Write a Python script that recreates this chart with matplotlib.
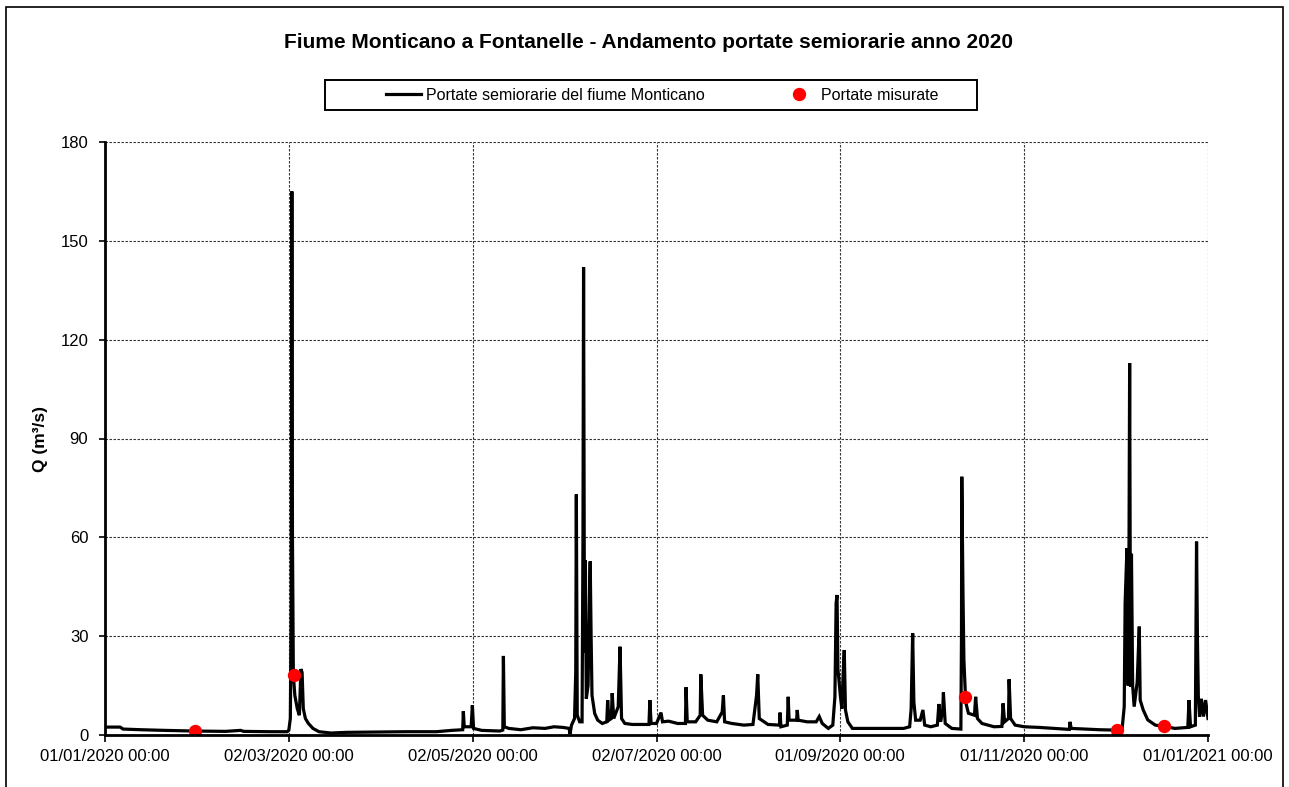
import matplotlib
matplotlib.use("Agg")
import matplotlib.pyplot as plt
import matplotlib.dates as mdates
from matplotlib.patches import Rectangle
import pandas as pd

plt.rcParams['font.family'] = ['Liberation Sans', 'DejaVu Sans']

# --- DATA -------------------------------------------------------------
# days elapsed since 01/01/2020 00:00 and semi-hourly discharge (m3/s)
giorno = [
    0, 5, 6, 12, 20, 30, 40, 45, 46, 55, 60.5,
    61.0, 61.5, 61.8, 62.0, 62.2, 62.5, 63.0, 63.8, 64.5, 65.0, 65.4, 65.8,
    66.5, 67.5, 69, 71, 75, 80, 90, 100, 110, 115,
    118.7, 118.9, 119.2, 121.5, 121.9, 122.3, 125, 131, 132.0, 132.2, 132.5,
    134, 138, 142, 146, 149, 152, 154.0, 154.3, 154.8, 155.8, 156.2, 156.4,
    156.7, 157.5, 158.3, 158.6, 158.8, 159.1, 159.4, 159.7, 160.3, 160.8,
    161.0, 161.3, 161.6, 162.5, 163.5, 165, 166.5, 166.8, 167.2, 168.0,
    168.3, 168.8, 170.3, 170.9, 171.4, 172.5, 175, 180.5, 180.8, 181.2,
    183, 184.5, 185, 187, 190, 192.6, 192.8, 193.2, 196, 197.5, 197.7,
    198.3, 200, 203, 204.8, 205.2, 205.6, 208, 212, 215, 216.2, 216.6,
    217.1, 220, 223.8, 224.0, 224.3, 226.4, 226.7, 227.0, 229.5, 229.7,
    230, 233, 236, 237, 238, 240, 241.5, 242.2, 242.6, 242.9, 243.2,
    244.0, 244.5, 245.0, 245.3, 245.7, 246.5, 248, 255, 265, 267.0, 267.5,
    268.0, 268.4, 269.0, 270.5, 271.4, 272, 274, 276.2, 276.7, 277.3,
    278.0, 278.2, 278.8, 281, 284.0, 284.2, 284.3, 284.7, 285.0, 285.6,
    286.5, 288.5, 288.9, 289.5, 291, 295, 297.6, 298.0, 298.5, 299.8,
    300.0, 300.5, 302, 305, 310, 315, 320.0, 320.2, 320.6, 325, 330, 335,
    337.5, 338.2, 338.5, 339.1, 339.5, 339.8, 340.0, 340.3, 340.6, 341.0,
    341.5, 342.5, 343.2, 343.5, 344.5, 346, 348.5, 351, 355, 359.3, 359.7,
    360.2, 361.8, 362.2, 362.5, 362.8, 363.2, 363.8, 364.5, 365.2, 366,
]
portata = [
    2.4, 2.4, 1.8, 1.6, 1.4, 1.2, 1.1, 1.4, 1.1, 1.0, 1.0,
    1.5, 5, 40, 165, 60, 18, 12, 8, 6, 20, 19, 8,
    5, 3.5, 2, 1, 0.6, 0.8, 0.9, 1.0, 1.0, 1.4,
    1.6, 7.2, 2.5, 2.5, 9, 2.0, 1.4, 1.2, 1.5, 24, 2.5,
    2.0, 1.6, 2.2, 2.0, 2.5, 2.3, 2.0, 0.3, 3, 5, 19, 73,
    6, 4, 4, 60, 142, 25, 53, 11, 15, 45,
    52.7, 30, 12, 6.5, 4.5, 3.5, 4, 10.6, 4.5, 5,
    12.7, 5, 8.6, 26.8, 5, 3.5, 3.2, 3.2, 10.6, 3.5,
    3.5, 6.8, 4, 4.2, 3.5, 3.5, 14.5, 4, 4, 6, 18.4,
    6, 4.5, 4, 7, 12, 4, 3.5, 3, 3.2, 12, 18.4,
    5, 3.2, 3, 6.8, 2.5, 3, 11.6, 4.5, 4.5, 7.6,
    4.5, 4.0, 4.0, 5.6, 3.5, 2, 3, 11.6, 40, 42.5, 20,
    12, 8, 20, 25.8, 7.6, 4, 2, 2, 2, 2.5, 8,
    30.9, 10, 4.5, 4.5, 7.6, 3, 2.5, 3, 9.4, 4,
    8, 12.9, 3.5, 2, 1.8, 30, 78.4, 43, 22.8, 10,
    6.6, 6, 11.6, 5, 3.5, 2.5, 2.6, 9.6, 4, 5,
    16.9, 5, 3, 2.5, 2.3, 2.0, 1.7, 4, 2, 1.8, 1.6, 1.5,
    1.8, 8.6, 40, 56.7, 15, 60, 112.9, 14.7, 55, 15,
    8.6, 16, 32.9, 10.6, 7.6, 4.6, 3, 2.7, 2, 2.3, 10.6,
    2.5, 3, 58.7, 28.8, 11.6, 5.6, 11, 5.6, 10.6, 5,
]

# measured discharges
giorno_misure = [30.0, 62.8, 285.5, 335.7, 351.4]
portata_misure = [1.2, 18.1, 11.6, 1.5, 2.7]

tick_dates = ['2020-01-01', '2020-03-02', '2020-05-02', '2020-07-02',
              '2020-09-01', '2020-11-01', '2021-01-01']
y_ticks = [0, 30, 60, 90, 120, 150, 180]

titolo = "Fiume Monticano a Fontanelle - Andamento portate semiorarie anno 2020"
label_serie = "Portate semiorarie del fiume Monticano"
label_misure = "Portate misurate"

# --- PLOT -------------------------------------------------------------
origin = pd.Timestamp('2020-01-01')
t = origin + pd.to_timedelta(giorno, unit='D')
tm = origin + pd.to_timedelta(giorno_misure, unit='D')

fig = plt.figure(figsize=(12.89, 7.87), dpi=100)
ax = fig.add_axes([105/1289, 1-735/787, (1208-105)/1289, (735-142)/787])

ax.plot(t, portata, color='black', lw=2.3, solid_joinstyle='miter',
        label=label_serie, zorder=3)
ax.plot(tm, portata_misure, linestyle='none', marker='o', color='#ff0000',
        markersize=9.6, markeredgewidth=0, label=label_misure, zorder=4)

ax.set_xlim(pd.Timestamp(tick_dates[0]), pd.Timestamp(tick_dates[-1]))
ax.set_ylim(0, 180)
ax.set_yticks(y_ticks)
ax.set_xticks([pd.Timestamp(d) for d in tick_dates])
ax.xaxis.set_major_formatter(mdates.DateFormatter('%d/%m/%Y %H:%M'))

ax.grid(True, color='#333333', linestyle=(0, (2.2, 1.4)), linewidth=0.8)
ax.set_axisbelow(True)
for s in ['top', 'right']:
    ax.spines[s].set_visible(False)
for s in ['left', 'bottom']:
    ax.spines[s].set_linewidth(2.0)
    ax.spines[s].set_zorder(5)

ax.tick_params(axis='x', direction='out', length=5, width=1.2, labelsize=12, pad=5)
ax.tick_params(axis='y', direction='out', length=4, width=1.2, labelsize=12, pad=8)

ax.set_ylabel('Q (m³/s)', fontsize=12.5, fontweight='bold')
ax.yaxis.set_label_coords((48-105)/1103, 0.5)

fig.text(649/1289, 1-42/787, titolo, ha='center', va='center',
         fontsize=15, fontweight='bold')

# legend
leg = ax.legend(loc='center', bbox_to_anchor=(662/1289, 1-95/787),
                bbox_transform=fig.transFigure, ncol=2, frameon=False,
                fontsize=11.5, handlelength=2.2, handletextpad=0.3,
                columnspacing=4.8, borderpad=0)
fig.add_artist(Rectangle((325/1289, 1-110/787), (977-325)/1289, 30/787,
                         transform=fig.transFigure, fill=False,
                         edgecolor='black', linewidth=1.4))

# outer chart border
fig.add_artist(Rectangle((6/1289, -0.05), (1283-6)/1289, 1.05-7/787,
                         transform=fig.transFigure, fill=False,
                         edgecolor='black', linewidth=1.2))

fig.savefig('out.png', dpi=100)
